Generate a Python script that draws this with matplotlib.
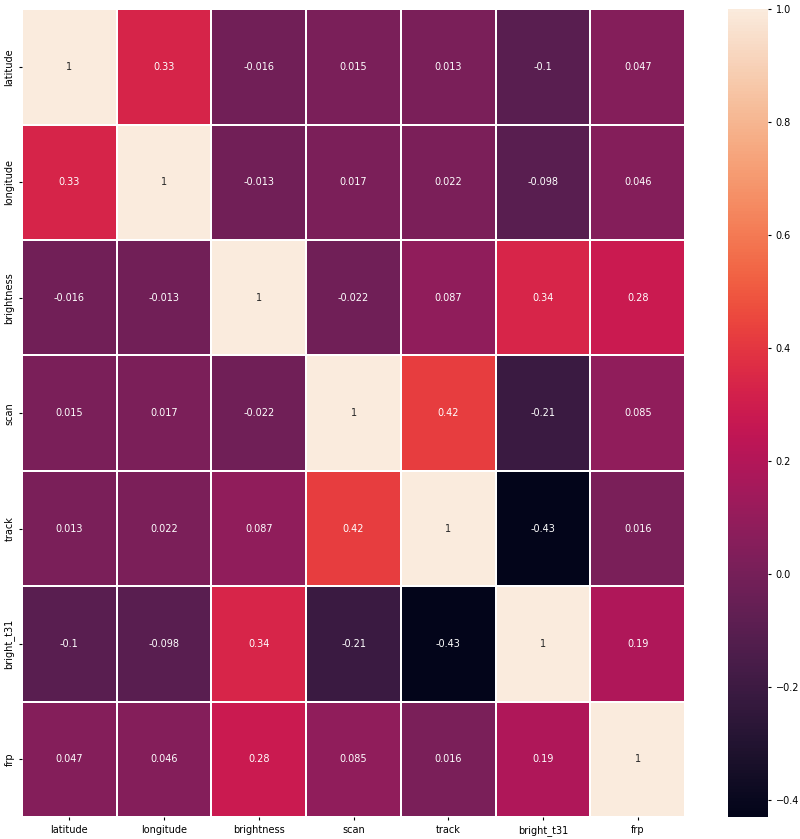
import numpy as np
import pandas as pd
import matplotlib
matplotlib.use('Agg')
import matplotlib.pyplot as plt
import seaborn as sns

columns = ["latitude", "longitude", "brightness", "scan", "track", "bright_t31", "frp"]

latitude = [1, 0.33, -0.016, 0.015, 0.013, -0.1, 0.047]
longitude = [0.33, 1, -0.013, 0.017, 0.022, -0.098, 0.046]
brightness = [-0.016, -0.013, 1, -0.022, 0.087, 0.34, 0.28]
scan = [0.015, 0.017, -0.022, 1, 0.42, -0.21, 0.085]
track = [0.013, 0.022, 0.087, 0.42, 1, -0.43, 0.016]
bright_t31 = [-0.1, -0.098, 0.34, -0.21, -0.43, 1, 0.19]
frp = [0.047, 0.046, 0.28, 0.085, 0.016, 0.19, 1]

corr = pd.DataFrame([latitude, longitude, brightness, scan, track, bright_t31, frp],
                    index=columns, columns=columns)

fig = plt.figure(figsize=(8, 8.39), dpi=100)
ax = fig.add_axes([0.0275, 0.026, 0.829, 0.963])
cax = fig.add_axes([0.91, 0.026, 0.05, 0.963])

sns.heatmap(corr, annot=True, linewidths=1.2, linecolor='white', ax=ax, cbar_ax=cax,
            annot_kws={'fontsize': 7})

ax.tick_params(labelsize=7, length=2)
cax.tick_params(labelsize=7, length=2)
for spine in cax.spines.values():
    spine.set_visible(False)

fig.savefig("out.png", dpi=100)
